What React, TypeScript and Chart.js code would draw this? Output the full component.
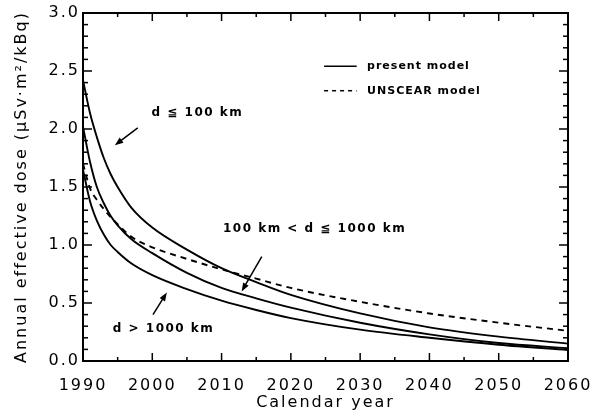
import React, { useEffect, useRef } from 'react';
import { Chart, registerables } from 'chart.js';

Chart.register(...registerables);

// ---- data ----
const YEARS = [1990, 1991, 1992, 1993, 1994, 1995, 1997, 2000, 2005, 2010, 2015, 2020, 2030, 2040, 2050, 2060];
const NEAR_100 = [2.42, 2.14, 1.93, 1.75, 1.61, 1.50, 1.32, 1.15, 0.96, 0.80, 0.68, 0.57, 0.41, 0.29, 0.21, 0.15];
const MID_100_1000 = [2.02, 1.72, 1.50, 1.36, 1.25, 1.17, 1.05, 0.93, 0.76, 0.63, 0.54, 0.46, 0.33, 0.23, 0.155, 0.11];
const FAR_1000 = [1.65, 1.38, 1.21, 1.09, 1.00, 0.94, 0.84, 0.74, 0.62, 0.52, 0.44, 0.37, 0.27, 0.20, 0.14, 0.095];
const UNSCEAR = [1.70, 1.49, 1.39, 1.31, 1.24, 1.18, 1.07, 0.98, 0.88, 0.79, 0.71, 0.63, 0.51, 0.41, 0.33, 0.26];

const X_TICKS = [1990, 2000, 2010, 2020, 2030, 2040, 2050, 2060];
const Y_TICKS = [0, 0.5, 1.0, 1.5, 2.0, 2.5, 3.0];
const X_TITLE = 'Calendar year';
const Y_TITLE = 'Annual effective dose (\u03bcSv\u00b7m\u00b2/kBq)';
const LEGEND_LABELS = ['present model', 'UNSCEAR model'];
const LABEL_NEAR = 'd \u2266 100 km';
const LABEL_MID = '100 km < d \u2266 1000 km';
const LABEL_FAR = 'd > 1000 km';

const FONT = 'DejaVu Sans';

const toPts = (vals: number[]) => YEARS.map((x, i) => ({ x, y: vals[i] }));

function arrow(ctx: CanvasRenderingContext2D, x1: number, y1: number, x2: number, y2: number) {
  const ang = Math.atan2(y2 - y1, x2 - x1);
  const head = 9;
  ctx.beginPath();
  ctx.moveTo(x1, y1);
  ctx.lineTo(x2 - Math.cos(ang) * head * 0.7, y2 - Math.sin(ang) * head * 0.7);
  ctx.stroke();
  ctx.beginPath();
  ctx.moveTo(x2, y2);
  ctx.lineTo(x2 - head * Math.cos(ang - 0.36), y2 - head * Math.sin(ang - 0.36));
  ctx.lineTo(x2 - head * Math.cos(ang + 0.36), y2 - head * Math.sin(ang + 0.36));
  ctx.closePath();
  ctx.fill();
}

const decorPlugin = {
  id: 'decor',
  beforeDraw(chart: any) {
    (chart.ctx as any).letterSpacing = '2px';
  },
  afterDraw(chart: any) {
    const ctx: CanvasRenderingContext2D = chart.ctx;
    const xs = chart.scales.x;
    const ys = chart.scales.y;
    const X = (v: number) => xs.getPixelForValue(v);
    const Y = (v: number) => ys.getPixelForValue(v);
    const L = X(xs.min);
    const R = X(xs.max);
    const T = Y(ys.max);
    const B = Y(ys.min);
    ctx.save();
    (ctx as any).letterSpacing = '0px';
    ctx.setLineDash([]);
    ctx.globalAlpha = 1;
    ctx.strokeStyle = '#000';
    ctx.fillStyle = '#000';
    const seg = (x1: number, y1: number, x2: number, y2: number) => {
      ctx.beginPath();
      ctx.moveTo(x1, y1);
      ctx.lineTo(x2, y2);
      ctx.stroke();
    };
    ctx.lineWidth = 2;
    ctx.beginPath();
    ctx.moveTo(L, T);
    ctx.lineTo(R, T);
    ctx.lineTo(R, B);
    ctx.lineTo(L, B);
    ctx.closePath();
    ctx.stroke();

    // inward ticks on all four sides
    ctx.lineWidth = 1.5;
    for (let k = 0; k <= 14; k++) {
      const px = X(xs.min + k * 5);
      const len = k % 2 === 0 ? 8 : 4;
      seg(px, B, px, B - len);
      seg(px, T, px, T + len);
    }
    for (let i = 0; i <= 30; i++) {
      const py = Y(i / 10);
      const len = i % 5 === 0 ? 9 : 5;
      seg(L, py, L + len, py);
      seg(R, py, R - len, py);
    }

    // legend
    ctx.lineWidth = 1.5;
    seg(X(2024.8), Y(2.54), X(2029.5), Y(2.54));
    ctx.setLineDash([4, 4]);
    seg(X(2024.8), Y(2.33), X(2029.5), Y(2.33));
    ctx.setLineDash([]);
    ctx.font = `bold 11px ${FONT}`;
    (ctx as any).letterSpacing = '1px';
    ctx.textBaseline = 'middle';
    ctx.textAlign = 'left';
    ctx.fillText(LEGEND_LABELS[0], X(2031), Y(2.54));
    ctx.fillText(LEGEND_LABELS[1], X(2031), Y(2.33));

    // curve annotations
    ctx.font = `bold 12px ${FONT}`;
    (ctx as any).letterSpacing = '1.5px';
    ctx.fillText(LABEL_NEAR, X(1999.9), Y(2.14));
    ctx.fillText(LABEL_MID, X(2010.2), Y(1.14));
    ctx.fillText(LABEL_FAR, X(1994.3), Y(0.28));
    (ctx as any).letterSpacing = '0px';
    ctx.lineWidth = 1.5;
    arrow(ctx, X(1997.9), Y(2.01), X(1994.6), Y(1.86));
    arrow(ctx, X(2015.8), Y(0.90), X(2012.9), Y(0.60));
    arrow(ctx, X(2000.1), Y(0.40), X(2002.1), Y(0.59));
    ctx.restore();
  },
};

export default function App() {
  const ref = useRef<HTMLCanvasElement>(null);
  useEffect(() => {
    if (!ref.current) return;
    const line = (label: string, vals: number[], dash: number[] = []) => ({
      label,
      data: toPts(vals),
      borderColor: '#000',
      backgroundColor: '#000',
      borderWidth: 1.9,
      borderDash: dash,
      pointRadius: 0,
      cubicInterpolationMode: 'monotone' as const,
      fill: false,
    });
    const chart = new Chart(ref.current, {
      type: 'line',
      data: {
        datasets: [
          line('d \u2266 100 km', NEAR_100),
          line('100 km < d \u2266 1000 km', MID_100_1000),
          line('d > 1000 km', FAR_1000),
          line('UNSCEAR model', UNSCEAR, [6, 5]),
        ],
      },
      options: {
        animation: false,
        responsive: true,
        maintainAspectRatio: false,
        layout: { padding: { top: 13, right: 27, left: 0, bottom: 0 } },
        plugins: { legend: { display: false }, tooltip: { enabled: false } },
        scales: {
          x: {
            type: 'linear',
            min: 1990,
            max: 2060,
            afterBuildTicks: (s: any) => {
              s.ticks = X_TICKS.map((v) => ({ value: v }));
            },
            afterFit: (s: any) => {
              s.height = 56;
              s.paddingLeft = 0;
              s.paddingRight = 0;
            },
            ticks: {
              font: { family: FONT, size: 16 },
              color: '#000',
              padding: 15,
              maxRotation: 0,
              autoSkip: false,
              callback: (v: any) => String(v),
            },
            grid: { display: false, drawTicks: false },
            border: { display: false },
            title: {
              display: true,
              text: X_TITLE,
              color: '#000',
              font: { family: FONT, size: 16 },
              padding: { top: 0, bottom: 5 },
            },
          },
          y: {
            type: 'linear',
            min: 0,
            max: 3,
            afterBuildTicks: (s: any) => {
              s.ticks = Y_TICKS.map((v) => ({ value: v }));
            },
            afterFit: (s: any) => {
              s.width = 83;
              s.paddingTop = 0;
              s.paddingBottom = 0;
            },
            ticks: {
              font: { family: FONT, size: 16 },
              color: '#000',
              padding: 3,
              autoSkip: false,
              callback: (v: any) => Number(v).toFixed(1),
            },
            grid: { display: false, drawTicks: false },
            border: { display: false },
            title: {
              display: true,
              text: Y_TITLE,
              color: '#000',
              font: { family: FONT, size: 16 },
              padding: { top: 12, bottom: 0 },
            },
          },
        },
      },
      plugins: [decorPlugin],
    } as any);
    return () => chart.destroy();
  }, []);
  return (
    <div style={{ position: 'absolute', left: 0, top: 0, width: 595, height: 417, background: '#fff' }}>
      <canvas ref={ref} />
    </div>
  );
}
